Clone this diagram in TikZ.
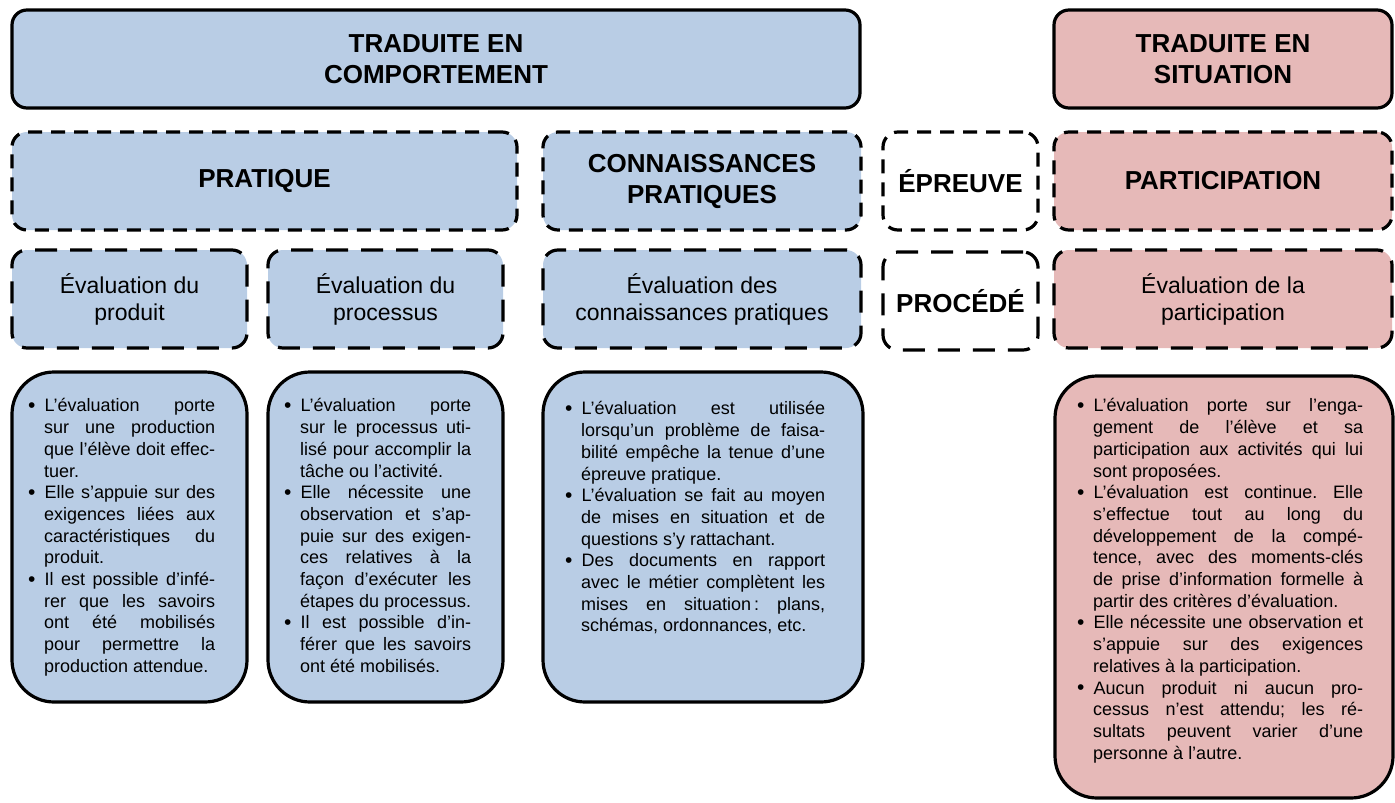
\documentclass[tikz,border=0pt]{standalone}
\usepackage{fontspec}
\setmainfont{Liberation Sans}
\usepackage{xcolor}
\definecolor{evblue}{RGB}{185,205,229}
\definecolor{evpink}{RGB}{230,185,184}
\usetikzlibrary{positioning}
\tolerance=10000
\hyphenpenalty=10000
\exhyphenpenalty=10000
\frenchspacing
\newenvironment{puces}{\begin{list}{\raisebox{-0.5pt}{\fontsize{21}{21}\selectfont\textbullet}}{%
  \setlength{\leftmargin}{16pt}\setlength{\labelsep}{9pt}%
  \setlength{\labelwidth}{7pt}\setlength{\itemsep}{0pt}%
  \setlength{\topsep}{0pt}\setlength{\partopsep}{0pt}%
  \setlength{\parsep}{0pt}}}{\end{list}}
\tikzset{
  titlebox/.style={draw, line width=3.2pt, rounded corners=15pt, fill=#1,
                   outer sep=0pt, inner sep=0pt, align=center,
                   font=\bfseries\fontsize{26}{31}\selectfont},
  catbox/.style={titlebox=#1, dash pattern=on 14pt off 9pt},
  evalbox/.style={draw, line width=3.2pt, dash pattern=on 22pt off 13pt,
                  rounded corners=15pt, fill=#1, outer sep=0pt, inner sep=0pt,
                  align=center, font=\fontsize{23}{27}\selectfont},
  descbox/.style={draw, line width=3.2pt, rounded corners=42pt, fill=#1,
                  outer sep=0pt},
  desctext/.style={anchor=north west, inner sep=0pt, align=justify,
                   font=\fontsize{18}{21.7}\selectfont},
}
\begin{document}
\begin{tikzpicture}[x=1pt, y=-1pt]
  \useasboundingbox (0,0) rectangle (1395,803);

  % Titles
  \node[titlebox=evblue, minimum width=848pt, minimum height=98pt] (comport) at (436,59) {TRADUITE EN\\COMPORTEMENT};
  \node[titlebox=evpink, minimum width=338pt, minimum height=98pt] (situation) at (1223,59) {TRADUITE EN\\SITUATION};

  % Categories
  \node[catbox=evblue, minimum width=505pt, minimum height=98pt] (pratique) at (264.5,181) {PRATIQUE};
  \node[catbox=evblue, minimum width=318pt, minimum height=98pt] (connpra) at (702,181) {CONNAISSANCES\\PRATIQUES};
  \node[catbox=white, minimum width=155pt, minimum height=98pt] (epreuve) at (960.5,181) {ÉPREUVE};
  \node[catbox=evpink, minimum width=338pt, minimum height=98pt] (particip) at (1223,181) {PARTICIPATION};

  % Procedures
  \node[evalbox=evblue, minimum width=235pt, minimum height=98pt] (produit) at (129.5,299) {Évaluation du\\produit};
  \node[evalbox=evblue, minimum width=235pt, minimum height=98pt] (processus) at (385.5,299) {Évaluation du\\processus};
  \node[evalbox=evblue, minimum width=318pt, minimum height=98pt] (evalconn) at (702,299) {Évaluation des\\connaissances pratiques};
  \node[catbox=white, minimum width=155pt, minimum height=98pt, dash pattern=on 22pt off 13pt] (procede) at (960.5,301) {PROCÉDÉ};
  \node[evalbox=evpink, minimum width=338pt, minimum height=98pt] (evalpart) at (1223,299) {Évaluation de la\\participation};

  % Descriptions
  \node[descbox=evblue, minimum width=235pt, minimum height=330pt] (produit-box) at (129.5,537) {};
  \node[descbox=evblue, minimum width=235pt, minimum height=330pt] (processus-box) at (385.5,537) {};
  \node[descbox=evblue, minimum width=320pt, minimum height=330pt] (evalconn-box) at (703,537) {};
  \node[descbox=evpink, minimum width=338pt, minimum height=422pt] (evalpart-box) at (1224,587) {};

  \node[desctext, text width=187pt] (produit-txt) at ([xshift=16pt, yshift=-18pt]produit-box.north west) {%
    \begin{puces}
    \item L’évaluation porte\linebreak sur une production\linebreak que l’élève doit effec-\linebreak tuer.
    \item Elle s’appuie sur des\linebreak exigences liées aux\linebreak caractéristiques du\linebreak produit.
    \item Il est possible d’infé-\linebreak rer que les savoirs\linebreak ont été mobilisés\linebreak pour permettre la\linebreak production attendue.
    \end{puces}};

  \node[desctext, text width=187pt] (processus-txt) at ([xshift=16pt, yshift=-18pt]processus-box.north west) {%
    \begin{puces}
    \item L’évaluation porte\linebreak sur le processus uti-\linebreak lisé pour accomplir la\linebreak tâche ou l’activité.
    \item Elle nécessite une\linebreak observation et s’ap-\linebreak puie sur des exigen-\linebreak ces relatives à la\linebreak façon d’exécuter les\linebreak étapes du processus.
    \item Il est possible d’in-\linebreak férer que les savoirs\linebreak ont été mobilisés.
    \end{puces}};

  \node[desctext, text width=260pt] (evalconn-txt) at ([xshift=22pt, yshift=-21pt]evalconn-box.north west) {%
    \begin{puces}
    \item L’évaluation est utilisée\linebreak lorsqu’un problème de faisa-\linebreak bilité empêche la tenue d’une\linebreak épreuve pratique.
    \item L’évaluation se fait au moyen\linebreak de mises en situation et de\linebreak questions s’y rattachant.
    \item Des documents en rapport\linebreak avec le métier complètent les\linebreak mises en situation\,: plans,\linebreak schémas, ordonnances, etc.
    \end{puces}};

  \node[desctext, text width=286pt] (evalpart-txt) at ([xshift=22pt, yshift=-14pt]evalpart-box.north west) {%
    \begin{puces}
    \item L’évaluation porte sur l’enga-\linebreak gement de l’élève et sa\linebreak participation aux activités qui lui\linebreak sont proposées.
    \item L’évaluation est continue. Elle\linebreak s’effectue tout au long du\linebreak développement de la compé-\linebreak tence, avec des moments-clés\linebreak de prise d’information formelle à\linebreak partir des critères d’évaluation.
    \item Elle nécessite une observation et\linebreak s’appuie sur des exigences\linebreak relatives à la participation.
    \item Aucun produit ni aucun pro-\linebreak cessus n’est attendu; les ré-\linebreak sultats peuvent varier d’une\linebreak personne à l’autre.
    \end{puces}};

\end{tikzpicture}
\end{document}
